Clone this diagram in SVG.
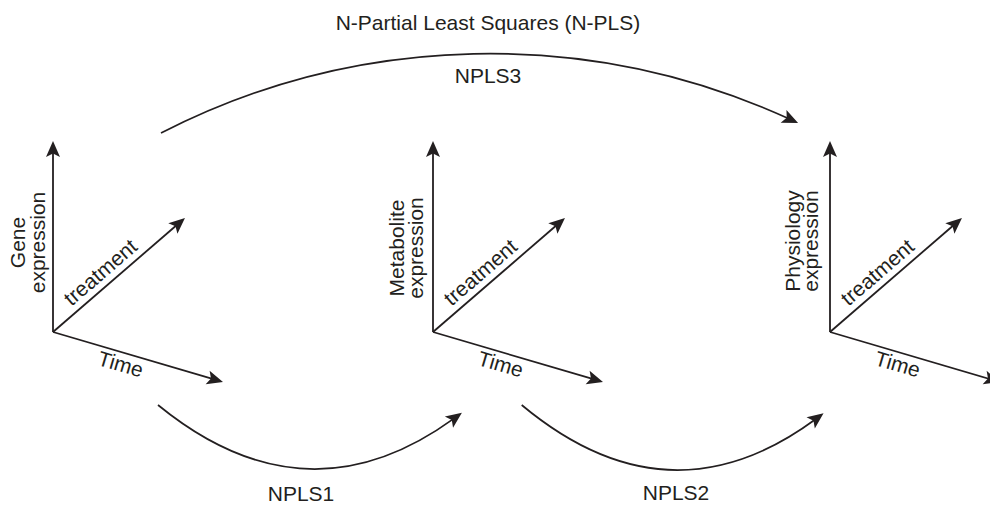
<svg xmlns="http://www.w3.org/2000/svg" width="990" height="508" viewBox="0 0 990 508">
  <style>
    .ax { stroke: #231f20; stroke-width: 1.8; fill: none; marker-end: url(#ah); }
    .cv { stroke: #231f20; stroke-width: 1.7; fill: none; marker-end: url(#ah); }
    text { font-family: "Liberation Sans", Arial, sans-serif; font-size: 21px; fill: #231f20; }
    .mid { text-anchor: middle; }
  </style>
  <defs>
    <marker id="ah" viewBox="-17 -8 18 16" refX="-10" refY="0" markerWidth="18" markerHeight="16" markerUnits="userSpaceOnUse" orient="auto">
      <path d="M0,0 L-16,-7 L-12.5,0 L-16,7 Z" fill="#231f20"/>
    </marker>
  </defs>
  <rect width="990" height="508" fill="#ffffff"/>

  <text id="title" class="mid" x="488" y="30">N-Partial Least Squares (N-PLS)</text>

  <g id="gene-axes" transform="translate(53,332)">
    <line class="ax" x1="0" y1="0" x2="0" y2="-181"/>
    <line class="ax" x1="0" y1="0" x2="124.4" y2="-107.5"/>
    <line class="ax" x1="0" y1="0" x2="160.4" y2="47.2"/>
    <g transform="translate(0,-89.5) rotate(-90)">
      <text class="mid" x="0" y="-28">Gene</text>
      <text class="mid" x="0" y="-8">expression</text>
    </g>
    <text class="mid" transform="rotate(-40.82)" x="75" y="-7">treatment</text>
    <text class="mid" transform="rotate(16.39)" x="74" y="19">Time</text>
  </g>

  <g id="metabolite-axes" transform="translate(433,332)">
    <line class="ax" x1="0" y1="0" x2="0" y2="-181"/>
    <line class="ax" x1="0" y1="0" x2="124.4" y2="-107.5"/>
    <line class="ax" x1="0" y1="0" x2="160.4" y2="47.2"/>
    <g transform="translate(0,-84) rotate(-90)">
      <text class="mid" x="0" y="-29">Metabolite</text>
      <text class="mid" x="0" y="-10">expression</text>
    </g>
    <text class="mid" transform="rotate(-40.82)" x="75" y="-7">treatment</text>
    <text class="mid" transform="rotate(16.39)" x="74" y="19">Time</text>
  </g>

  <g id="physiology-axes" transform="translate(830,332)">
    <line class="ax" x1="0" y1="0" x2="0" y2="-181"/>
    <line class="ax" x1="0" y1="0" x2="124.4" y2="-107.5"/>
    <line class="ax" x1="0" y1="0" x2="160.4" y2="47.2"/>
    <g transform="translate(0,-91) rotate(-90)">
      <text class="mid" x="0" y="-30">Physiology</text>
      <text class="mid" x="0" y="-12">expression</text>
    </g>
    <text class="mid" transform="rotate(-40.82)" x="75" y="-7">treatment</text>
    <text class="mid" transform="rotate(16.39)" x="74" y="19">Time</text>
  </g>

  <g id="connectors">
    <path class="cv" d="M161,133 A720,720 0 0 1 789,118.8"/>
    <path class="cv" d="M158,405 Q305.9,525.8 453.8,418.6"/>
    <path class="cv" d="M521.7,405 Q668.6,527.5 815.5,419.2"/>
    <text class="mid" x="488" y="83">NPLS3</text>
    <text class="mid" x="301" y="501">NPLS1</text>
    <text class="mid" x="676" y="500">NPLS2</text>
  </g>
</svg>
